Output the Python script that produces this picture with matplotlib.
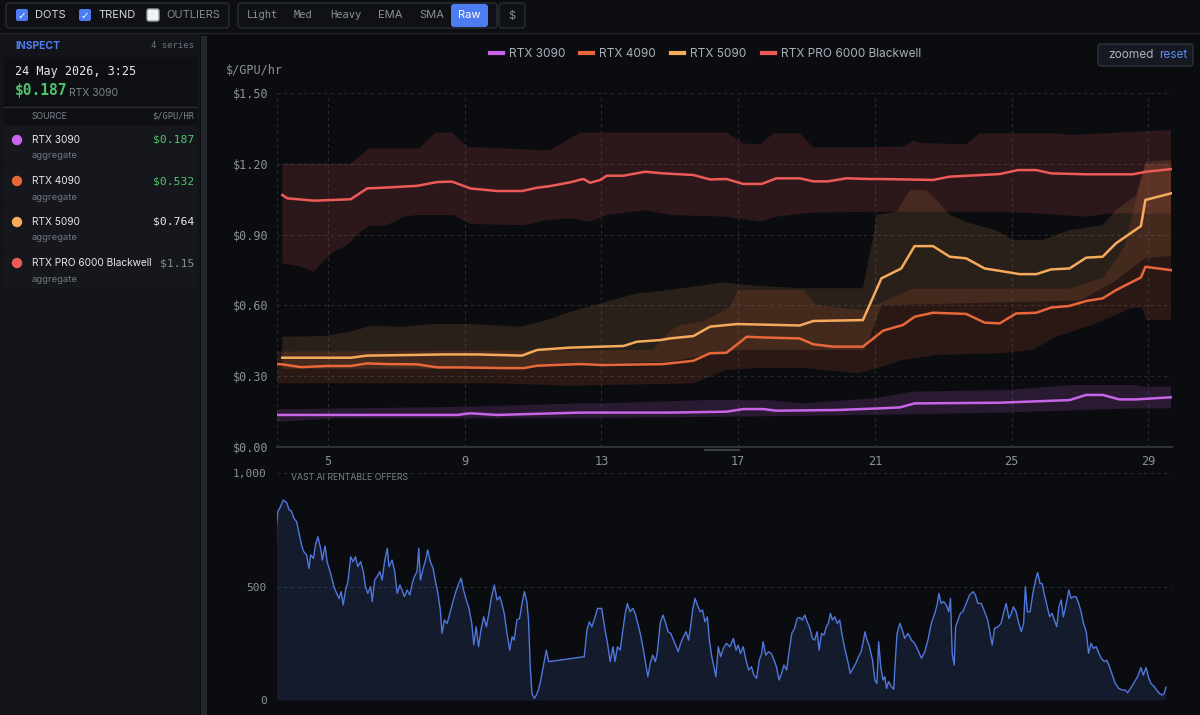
import numpy as np
import matplotlib
matplotlib.use('Agg')
import matplotlib.pyplot as plt
from matplotlib.patches import Rectangle, FancyBboxPatch, Circle
from matplotlib.lines import Line2D
from matplotlib.transforms import IdentityTransform
from matplotlib.ticker import FuncFormatter

# ---- price series (day of month, $/GPU/hr) ----
series_names = ['RTX 3090', 'RTX 4090', 'RTX 5090', 'RTX PRO 6000 Blackwell']
series_colors = ['#c965e8', '#e8673a', '#f6aa5c', '#ec5b55']

r3090_days = [3.52, 8.78, 9.17, 9.95, 12.38, 15.01, 16.66, 17.15, 17.73, 18.12, 19.9,
              21.14, 21.73, 22.16, 24.65, 26.69, 27.18, 27.66, 28.15, 28.64, 29.66]
r3090_vals = [0.134, 0.134, 0.141, 0.134, 0.144, 0.144, 0.148, 0.159, 0.159, 0.152, 0.155,
              0.162, 0.166, 0.183, 0.186, 0.197, 0.219, 0.219, 0.2, 0.2, 0.209]
r3090_hi_days = [3.52, 9.17, 12.38, 13.06, 16.0, 17.9, 18.9, 21.0, 22.1, 24.9, 26.7, 28.6, 28.9, 29.66]
r3090_hi_vals = [0.158, 0.169, 0.183, 0.183, 0.197, 0.197, 0.183, 0.205, 0.233, 0.24, 0.261, 0.261, 0.254, 0.254]
r3090_lo_days = [3.52, 5.3, 12.0, 17.0, 20.85, 24.7, 28.6, 29.66]
r3090_lo_vals = [0.105, 0.12, 0.12, 0.127, 0.134, 0.144, 0.162, 0.162]

r4090_days = [3.52, 3.67, 4.21, 4.98, 5.67, 6.15, 6.74, 7.61, 8.2, 8.78,
              10.14, 10.73, 11.12, 12.38, 13.06, 14.81, 15.69, 16.18, 16.66, 17.25,
              17.73, 18.8, 19.2, 19.78, 20.65, 21.24, 21.82, 22.16, 22.7, 23.67,
              24.21, 24.65, 25.13, 25.72, 26.15, 26.69, 27.18, 27.66, 28.05, 28.78,
              28.91, 29.66]
r4090_vals = [0.35, 0.349, 0.337, 0.342, 0.342, 0.353, 0.35, 0.349, 0.336, 0.336,
              0.333, 0.333, 0.343, 0.35, 0.346, 0.35, 0.364, 0.396, 0.398, 0.466,
              0.463, 0.459, 0.434, 0.424, 0.424, 0.492, 0.516, 0.551, 0.568, 0.563,
              0.526, 0.523, 0.565, 0.568, 0.59, 0.597, 0.618, 0.629, 0.664, 0.718,
              0.763, 0.749]
r4090_hi_days = [3.52, 14.5, 15.0, 15.3, 15.98, 16.76, 16.99, 18.9, 19.3, 20.65, 21.0,
                 22.1, 26.7, 27.7, 28.3, 28.9, 29.66]
r4090_hi_vals = [0.403, 0.41, 0.49, 0.516, 0.53, 0.594, 0.664, 0.664, 0.60, 0.58, 0.60,
                 0.67, 0.67, 0.72, 0.85, 1.2, 1.2]
r4090_lo_days = [3.52, 10.0, 12.0, 15.69, 16.66, 17.5, 19.0, 20.5, 21.0, 21.8,
                 22.8, 24.7, 25.6, 26.3, 27.2, 27.7, 28.5, 28.8, 28.95, 29.66]
r4090_lo_vals = [0.268, 0.268, 0.258, 0.268, 0.325, 0.333, 0.333, 0.31, 0.33, 0.367,
                 0.389, 0.396, 0.41, 0.466, 0.509, 0.537, 0.587, 0.59, 0.537, 0.537]

r5090_days = [3.67, 5.67, 6.15, 7.61, 8.39, 9.36, 10.68, 11.12, 12.09, 13.65,
              14.04, 14.72, 15.01, 15.69, 16.18, 16.96, 17.93, 18.8, 19.2, 20.65,
              21.19, 21.77, 22.16, 22.7, 23.19, 23.67, 24.21, 24.65, 25.23, 25.72,
              26.15, 26.69, 27.18, 27.66, 28.05, 28.78, 28.91, 29.66]
r5090_vals = [0.377, 0.377, 0.386, 0.389, 0.391, 0.391, 0.386, 0.41, 0.42, 0.427,
              0.445, 0.452, 0.459, 0.469, 0.509, 0.52, 0.517, 0.514, 0.533, 0.537,
              0.714, 0.756, 0.851, 0.851, 0.806, 0.799, 0.756, 0.746, 0.732, 0.732,
              0.752, 0.756, 0.802, 0.806, 0.863, 0.936, 1.047, 1.075]
r5090_hi_days = [3.67, 4.89, 5.67, 6.25, 7.22, 8.0, 9.17, 10.63, 11.41, 12.09,
                 13.06, 14.04, 15.01, 15.69, 16.57, 17.25, 17.93, 18.9, 20.65, 20.99,
                 21.04, 21.63, 22.02, 22.5, 22.8, 23.19, 23.77, 24.55, 25.03, 25.91,
                 26.69, 27.66, 28.05, 28.64, 28.93, 29.66]
r5090_hi_vals = [0.466, 0.469, 0.488, 0.512, 0.509, 0.52, 0.52, 0.509, 0.537, 0.572,
                 0.611, 0.65, 0.665, 0.679, 0.697, 0.686, 0.679, 0.672, 0.672, 0.919,
                 0.983, 0.997, 1.089, 1.089, 1.047, 0.983, 0.948, 0.919, 0.877, 0.877,
                 0.919, 0.94, 1.004, 1.068, 1.21, 1.217]
r5090_lo_days = [3.67, 10.7, 12.0, 15.0, 16.5, 17.0, 20.7, 21.2, 27.0, 28.0, 28.9, 29.66]
r5090_lo_vals = [0.33, 0.33, 0.35, 0.36, 0.40, 0.41, 0.41, 0.60, 0.62, 0.70, 0.80, 0.81]

pro_days = [3.67, 3.82, 4.6, 5.67, 6.15, 6.74, 7.61, 8.2, 8.63, 9.17,
            9.95, 10.68, 11.12, 11.5, 12.09, 12.38, 12.48, 12.67, 12.97, 13.16,
            13.65, 14.28, 14.81, 15.69, 16.18, 16.66, 17.15, 17.69, 18.12, 18.8,
            19.2, 19.63, 20.17, 20.85, 21.14, 22.7, 23.19, 24.65, 25.18, 25.72,
            26.15, 27.18, 28.54, 28.93, 29.66]
pro_vals = [1.068, 1.054, 1.044, 1.05, 1.096, 1.100, 1.107, 1.123, 1.125, 1.096,
            1.085, 1.085, 1.099, 1.106, 1.122, 1.133, 1.136, 1.12, 1.132, 1.15,
            1.15, 1.167, 1.16, 1.153, 1.134, 1.136, 1.115, 1.115, 1.139, 1.139,
            1.126, 1.126, 1.139, 1.136, 1.136, 1.132, 1.146, 1.157, 1.174, 1.174,
            1.16, 1.156, 1.156, 1.167, 1.178]
pro_hi_days = [3.67, 5.67, 6.2, 7.66, 8.15, 8.63, 9.07, 10.14, 11.12, 11.5,
               12.38, 16.66, 17.15, 17.64, 18.03, 18.8, 19.2, 21.82, 22.1, 22.4,
               23.67, 24.06, 26.3, 26.69, 29.66]
pro_hi_vals = [1.202, 1.202, 1.266, 1.266, 1.333, 1.333, 1.273, 1.266, 1.259, 1.259,
               1.333, 1.333, 1.287, 1.284, 1.33, 1.33, 1.27, 1.273, 1.298, 1.288,
               1.284, 1.33, 1.33, 1.323, 1.344]
pro_lo_days = [3.67, 4.21, 4.6, 4.89, 5.18, 5.57, 5.96, 6.2, 6.74, 7.22,
               7.61, 8.68, 9.17, 10.73, 11.31, 12.09, 12.67, 13.16, 14.28, 15.01,
               16.66, 17.64, 18.12, 19.1, 21.14, 24.74, 25.72, 27.18, 27.86, 29.66]
pro_lo_vals = [0.778, 0.764, 0.742, 0.792, 0.827, 0.856, 0.912, 0.936, 0.94, 0.976,
               0.983, 0.983, 0.945, 0.94, 0.959, 0.969, 0.955, 0.983, 1.004, 0.983,
               0.976, 0.955, 0.976, 0.993, 0.997, 0.997, 0.99, 0.976, 0.99, 0.99]

# ---- vast.ai rentable offers ----
offer_days = [
    3.48, 3.50, 3.54, 3.60, 3.70, 3.80, 3.87, 3.93, 4.01, 4.09,
    4.16, 4.23, 4.30, 4.38, 4.45, 4.50, 4.58, 4.64, 4.71, 4.79,
    4.84, 4.92, 4.98, 5.08, 5.18, 5.26, 5.33, 5.39, 5.45, 5.52,
    5.59, 5.67, 5.74, 5.81, 5.88, 5.96, 6.04, 6.10, 6.17, 6.25,
    6.30, 6.37, 6.44, 6.52, 6.59, 6.66, 6.74, 6.79, 6.88, 6.95,
    7.03, 7.11, 7.17, 7.24, 7.32, 7.40, 7.47, 7.53, 7.61, 7.66,
    7.71, 7.79, 7.86, 7.92, 8.00, 8.08, 8.15, 8.22, 8.29, 8.34,
    8.41, 8.49, 8.57, 8.66, 8.76, 8.83, 8.90, 8.97, 9.05, 9.13,
    9.21, 9.27, 9.34, 9.41, 9.48, 9.56, 9.64, 9.71, 9.79, 9.87,
    9.95, 10.03, 10.09, 10.16, 10.24, 10.32, 10.39, 10.45, 10.53, 10.61,
    10.68, 10.75, 10.82, 10.87, 10.92, 10.97, 11.04, 11.10, 11.16, 11.23,
    11.31, 11.39, 11.46, 12.50, 12.58, 12.65, 12.72, 12.79, 12.89, 13.01,
    13.11, 13.18, 13.26, 13.34, 13.40, 13.47, 13.55, 13.63, 13.70, 13.76,
    13.84, 13.92, 13.99, 14.09, 14.16, 14.23, 14.31, 14.36, 14.43, 14.50,
    14.58, 14.64, 14.72, 14.80, 14.87, 14.95, 15.03, 15.11, 15.19, 15.25,
    15.32, 15.40, 15.48, 15.55, 15.61, 15.67, 15.74, 15.81, 15.89, 15.96,
    16.03, 16.10, 16.16, 16.23, 16.29, 16.35, 16.42, 16.49, 16.57, 16.66,
    16.76, 16.86, 16.94, 17.00, 17.07, 17.15, 17.23, 17.31, 17.39, 17.46,
    17.54, 17.62, 17.69, 17.73, 17.81, 17.89, 17.97, 18.05, 18.12, 18.20,
    18.27, 18.34, 18.42, 18.49, 18.57, 18.65, 18.73, 18.80, 18.88, 18.95,
    19.02, 19.10, 19.17, 19.24, 19.31, 19.37, 19.44, 19.51, 19.58, 19.64,
    19.70, 19.76, 19.83, 19.90, 19.97, 20.05, 20.13, 20.21, 20.28, 20.36,
    20.44, 20.52, 20.60, 20.65, 20.71, 20.77, 20.83, 20.93, 21.00, 21.06,
    21.11, 21.17, 21.24, 21.29, 21.34, 21.40, 21.48, 21.55, 21.61, 21.65,
    21.73, 21.80, 21.87, 21.97, 22.07, 22.16, 22.26, 22.36, 22.46, 22.55,
    22.65, 22.75, 22.82, 22.87, 22.94, 23.01, 23.09, 23.16, 23.21, 23.26,
    23.32, 23.36, 23.43, 23.50, 23.57, 23.67, 23.77, 23.87, 23.94, 24.01,
    24.11, 24.21, 24.30, 24.37, 24.43, 24.50, 24.60, 24.69, 24.76, 24.84,
    24.92, 24.99, 25.05, 25.13, 25.21, 25.28, 25.35, 25.40, 25.46, 25.54,
    25.62, 25.70, 25.76, 25.83, 25.89, 25.96, 26.03, 26.11, 26.18, 26.25,
    26.32, 26.38, 26.45, 26.51, 26.59, 26.67, 26.74, 26.81, 26.88, 26.96,
    27.03, 27.10, 27.18, 27.25, 27.32, 27.39, 27.47, 27.55, 27.62, 27.71,
    27.78, 27.86, 27.93, 28.03, 28.13, 28.23, 28.32, 28.39, 28.54, 28.68,
    28.78, 28.85, 28.93, 29.01, 29.07, 29.17, 29.24, 29.32, 29.41, 29.46,
    29.51]
offer_counts = [
    412, 764, 831, 848, 882, 870, 838, 835, 801, 786,
    735, 684, 654, 640, 580, 640, 625, 684, 720, 669,
    617, 679, 610, 559, 500, 470, 448, 478, 419, 485,
    522, 632, 610, 632, 588, 610, 566, 500, 470, 500,
    434, 529, 544, 566, 529, 610, 669, 588, 617, 573,
    470, 507, 485, 456, 485, 463, 514, 544, 566, 669,
    529, 580, 617, 662, 610, 580, 522, 470, 397, 294,
    353, 338, 382, 434, 485, 514, 537, 485, 441, 404,
    338, 243, 323, 235, 309, 367, 323, 382, 456, 507,
    441, 456, 426, 382, 294, 220, 279, 264, 353, 360,
    426, 478, 434, 353, 147, 29, 7, 22, 44, 88,
    154, 220, 169, 191, 309, 345, 323, 353, 404, 404,
    309, 250, 169, 235, 169, 235, 220, 309, 382, 426,
    389, 404, 382, 323, 279, 220, 147, 103, 161, 198,
    169, 213, 338, 375, 345, 301, 294, 264, 235, 213,
    250, 279, 301, 264, 323, 397, 448, 419, 389, 397,
    345, 367, 264, 191, 147, 103, 235, 191, 228, 250,
    235, 272, 220, 242, 205, 235, 176, 132, 147, 110,
    96, 176, 205, 257, 198, 213, 205, 176, 147, 88,
    117, 154, 132, 213, 294, 316, 360, 364, 353, 375,
    345, 316, 272, 264, 301, 220, 294, 286, 323, 338,
    382, 353, 367, 338, 353, 279, 220, 169, 117, 140,
    161, 191, 213, 250, 301, 264, 242, 176, 88, 73,
    257, 147, 88, 103, 51, 81, 59, 47, 206, 294,
    338, 309, 272, 294, 264, 250, 220, 184, 213, 264,
    338, 382, 419, 470, 426, 434, 419, 389, 448, 206,
    154, 323, 353, 382, 389, 426, 463, 478, 463, 426,
    426, 389, 353, 294, 242, 316, 323, 338, 382, 426,
    360, 382, 411, 389, 338, 301, 338, 500, 389, 389,
    470, 529, 562, 514, 514, 463, 419, 367, 382, 353,
    323, 411, 441, 367, 419, 485, 448, 456, 456, 426,
    389, 338, 301, 206, 250, 228, 235, 206, 184, 169,
    176, 147, 117, 73, 51, 44, 44, 32, 66, 103,
    143, 110, 143, 96, 73, 59, 44, 29, 22, 29,
    56]

day_ticks = [5, 9, 13, 17, 21, 25, 29]
price_ticks = [0.0, 0.3, 0.6, 0.9, 1.2, 1.5]
offer_ticks = [0, 500, 1000]

# inspect panel
inspect_time = '24 May 2026, 3:25'
inspect_values = ['$0.187', '$0.532', '$0.764', '$1.15']
inspect_value_colors = ['#4fc46f', '#4fc46f', '#e6e8ec', '#8a8f98']

toggles = [('DOTS', True), ('TREND', True), ('OUTLIERS', False)]
smoothing = ['Light', 'Med', 'Heavy', 'EMA', 'SMA', 'Raw']

BG = '#0b0c10'
GRID = '#272a31'
TICK = '#8b909a'
MONO = ['DejaVu Sans Mono']
plt.rcParams['font.family'] = ['Inter', 'DejaVu Sans']

W, H = 1200, 715
fig = plt.figure(figsize=(W / 100, H / 100), dpi=100, facecolor=BG)
PX = IdentityTransform()


def fx(x):
    return x / W


def fy(y):
    return 1 - y / H


def rect(x0, y0, x1, y1, fc, ec='none', r=0, lw=1.0, z=0):
    if r:
        p = FancyBboxPatch((x0, H - y1), x1 - x0, y1 - y0,
                           boxstyle='round,pad=0,rounding_size=%g' % r,
                           fc=fc, ec=ec, lw=lw, transform=PX, zorder=z)
    else:
        p = Rectangle((x0, H - y1), x1 - x0, y1 - y0, fc=fc, ec=ec, lw=lw,
                      transform=PX, zorder=z)
    fig.add_artist(p)


def hline(x0, x1, y, color, lw=1.0):
    fig.add_artist(Line2D([x0, x1], [H - y, H - y], color=color, lw=lw, transform=PX))


def txt(x, y, s, **kw):
    kw.setdefault('va', 'center')
    fig.text(fx(x), fy(y), s, **kw)


# ---- toolbar ----
rect(0, 0, W, 32, '#0d0e12')
hline(0, W, 32.5, '#23262d')
rect(6, 3, 229, 28, '#101116', '#2a2d35', r=4)
rect(238, 3, 497, 28, '#101116', '#2a2d35', r=4)
rect(499, 3, 525, 28, '#101116', '#2a2d35', r=4)
tog_x = [16, 79, 147]
for (label, on), x in zip(toggles, tog_x):
    if on:
        rect(x, 9, x + 12, 21, '#4d7cf0', r=2)
        txt(x + 6, 15.5, '\u2713', color='white', fontsize=7.5, ha='center',
            fontweight='bold', family=['DejaVu Sans'])
        txt(x + 19, 15.5, label, color='#d6d9e0', fontsize=8)
    else:
        rect(x, 9, x + 12, 21, '#f2f3f5', '#9a9ea6', r=2)
        txt(x + 19, 15.5, label, color='#858a94', fontsize=8)
sm_x = [247, 294, 330, 378, 419]
for label, x in zip(smoothing[:3], sm_x[:3]):
    txt(x, 15.5, label, color='#8a8f98', fontsize=7.5, family=MONO)
for label, x in zip(smoothing[3:5], sm_x[3:]):
    txt(x, 15.5, label, color='#8a8f98', fontsize=8)
rect(451, 4, 488, 27, '#4d7cf0', r=3)
txt(469.5, 15.5, smoothing[5], color='white', fontsize=8, ha='center')
txt(512, 15.5, '$', color='#8a8f98', fontsize=8, ha='center')

# ---- inspect panel ----
rect(0, 33, 200, H, '#121419')
rect(201, 36, 207, H, '#24272e')
txt(15, 46, 'INSPECT', color='#4f7cf0', fontsize=7.5, fontweight='bold')
txt(194, 46, '4 series', color='#6b707a', fontsize=6.5, ha='right', family=MONO)
rect(4, 57, 197, 106, '#0e0f13')
txt(15, 72, inspect_time, color='#e6e8ec', fontsize=8.5, family=MONO)
txt(15, 91, inspect_values[0], color=inspect_value_colors[0], fontsize=10.5,
    fontweight='bold', family=MONO)
txt(69, 92.5, series_names[0], color='#7d828c', fontsize=7.5)
hline(4, 197, 107, '#2a2d35')
rect(4, 108, 197, 125, '#0f1014')
txt(32, 116.5, 'SOURCE', color='#7d828c', fontsize=6.3)
txt(194, 116.5, '$/GPU/HR', color='#7d828c', fontsize=6.3, ha='right', family=MONO)
for i, name in enumerate(series_names):
    top = 126 + 41 * i
    rect(4, top, 197, top + 40, '#15171c')
    fig.add_artist(Circle((17, H - (top + 14)), 4.5, color=series_colors[i], transform=PX))
    txt(32, top + 14, name, color='#e6e8ec', fontsize=7.3)
    txt(32, top + 30, 'aggregate', color='#70757f', fontsize=6.8)
    txt(194, top + 14, inspect_values[i], color=inspect_value_colors[i], fontsize=8.2,
        ha='right', family=MONO)

# ---- price chart ----
xlim = (3.5, 29.68)
ax = fig.add_axes([fx(276.5), fy(446.5), fx(895.2), 353.2 / H])
ax.set_facecolor('none')
bands = [
    (pro_hi_days, pro_hi_vals, pro_lo_days, pro_lo_vals, series_colors[3], 0.15),
    (r5090_hi_days, r5090_hi_vals, r5090_lo_days, r5090_lo_vals, series_colors[2], 0.13),
    (r4090_hi_days, r4090_hi_vals, r4090_lo_days, r4090_lo_vals, series_colors[1], 0.14),
    (r3090_hi_days, r3090_hi_vals, r3090_lo_days, r3090_lo_vals, series_colors[0], 0.16),
]
for hd, hv, ld, lv, c, a in bands:
    ax.fill(np.r_[hd, ld[::-1]], np.r_[hv, lv[::-1]], color=c, alpha=a, lw=0, zorder=2)

lines = [(r3090_days, r3090_vals), (r4090_days, r4090_vals),
         (r5090_days, r5090_vals), (pro_days, pro_vals)]
handles = []
for (d, v), c, name in zip(lines, series_colors, series_names):
    ax.plot(d, v, color=c, lw=1.8, zorder=4, solid_joinstyle='round')
    handles.append(Line2D([0], [0], color=c, lw=3, label=name))

ax.set_xlim(*xlim)
ax.set_ylim(0, 1.5)
ax.set_xticks(day_ticks)
ax.set_yticks(price_ticks)
ax.yaxis.set_major_formatter(FuncFormatter(lambda v, p: '$%.2f' % v))
ax.grid(True, color=GRID, ls=(0, (3, 3)), lw=0.8, zorder=1)
ax.axvline(xlim[0], color=GRID, ls=(0, (3, 3)), lw=0.8, zorder=1, clip_on=False)
for s in ['top', 'left', 'right']:
    ax.spines[s].set_visible(False)
ax.spines['bottom'].set_color('#34373f')
ax.spines['bottom'].set_linewidth(1.3)
ax.tick_params(length=0, colors=TICK, labelsize=8.5, pad=6)
for lab in ax.get_xticklabels() + ax.get_yticklabels():
    lab.set_family(MONO)
leg = ax.legend(handles=handles, loc='center', bbox_to_anchor=(0.479, 1.111), ncol=4,
                frameon=False, fontsize=8.5, labelcolor='#aab0ba', handlelength=1.1,
                handletextpad=0.5, columnspacing=1.3)
txt(226, 70, '$/GPU/hr', color=TICK, fontsize=8.5, family=MONO)
hline(705, 739, 449.5, '#3a3d45', lw=1.5)

# zoomed / reset badge
rect(1098, 44, 1193, 66, '#161922', '#2e323c', r=3)
txt(1108, 55, 'zoomed', color='#aeb3bd', fontsize=8.5)
txt(1159, 55, 'reset', color='#5b8cf0', fontsize=8.5)

# ---- offers chart ----
n = min(len(offer_days), len(offer_counts))
ax2 = fig.add_axes([fx(276.5), fy(700), fx(895.2), 226.7 / H])
ax2.set_facecolor('none')
ax2.fill_between(offer_days[:n], offer_counts[:n], 0, color='#4a72d8', alpha=0.15, lw=0, zorder=2)
ax2.plot(offer_days[:n], offer_counts[:n], color='#4f77dc', lw=1.0, zorder=3)
ax2.set_xlim(*xlim)
ax2.set_ylim(0, 1000)
ax2.set_xticks([])
ax2.set_yticks(offer_ticks)
ax2.yaxis.set_major_formatter(FuncFormatter(lambda v, p: '{:,.0f}'.format(v)))
ax2.grid(True, axis='y', color=GRID, ls=(0, (3, 3)), lw=0.8, zorder=1)
for s in ax2.spines.values():
    s.set_visible(False)
ax2.tick_params(length=0, colors=TICK, labelsize=8, pad=7)
for lab in ax2.get_yticklabels():
    lab.set_family(MONO)
txt(291, 478, 'VAST.AI RENTABLE OFFERS', color='#7b808a', fontsize=6.3)

fig.savefig('out.png', dpi=100, facecolor=BG)
